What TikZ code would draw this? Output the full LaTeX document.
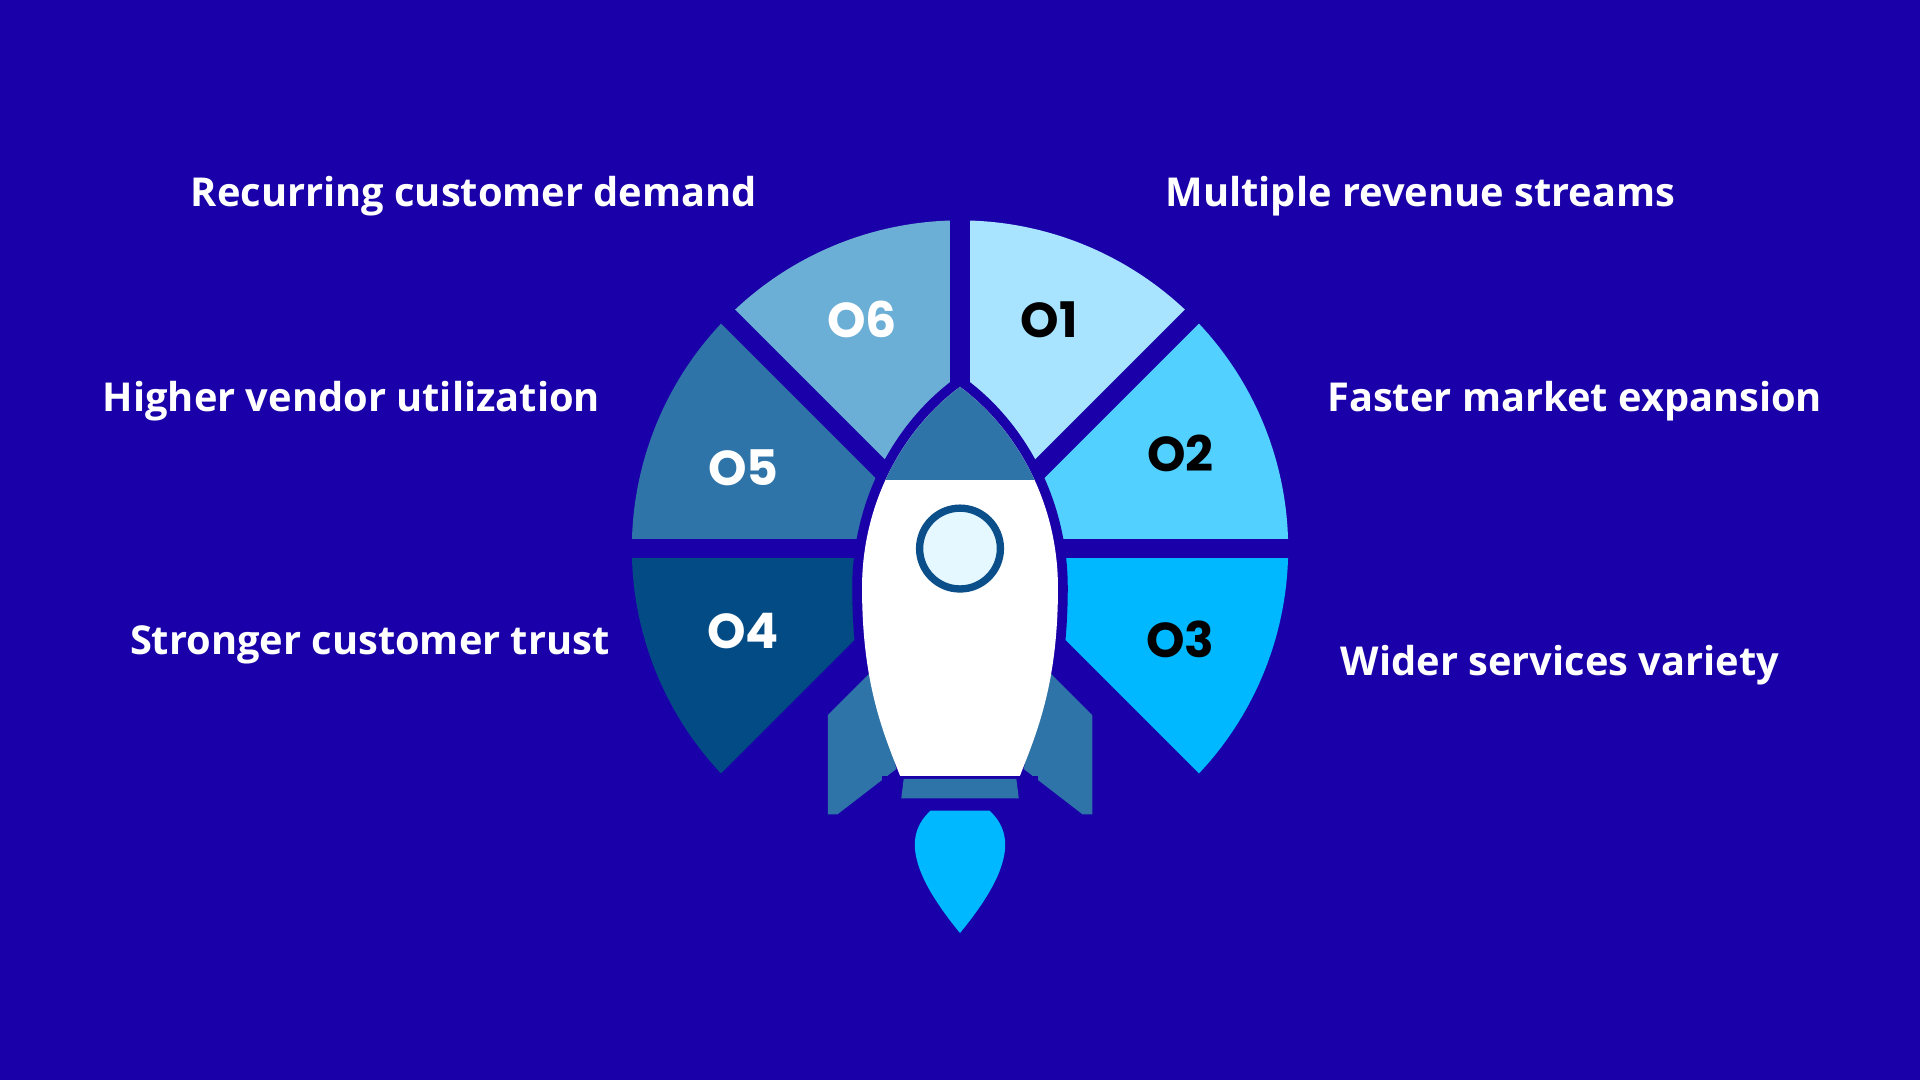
\documentclass[tikz,border=0pt]{standalone}
\usepackage{fontspec}
\setmainfont{Open Sans}
\newfontfamily\pop{Poppins}
\definecolor{bg}{HTML}{1A00A8}
\definecolor{cA}{HTML}{A8E4FF}
\definecolor{cB}{HTML}{52D0FF}
\definecolor{cC}{HTML}{00B8FF}
\definecolor{cD}{HTML}{034B85}
\definecolor{cE}{HTML}{2E74A8}
\definecolor{cF}{HTML}{6BAED6}
\definecolor{win}{HTML}{0B4F8A}
\begin{document}
\begin{tikzpicture}[x=1pt,y=1pt,
 lab/.style={text=white,font=\bfseries\fontsize{32.5}{38}\selectfont},
 num/.style={font=\pop\bfseries\fontsize{40}{44}\selectfont},
 gap/.style={bg,line width=16pt},
 rim/.style={draw=bg,line width=16pt,line join=round}]
\fill[bg] (0,0) rectangle (1568,882);
\useasboundingbox (0,0) rectangle (1568,882);
\coordinate (C) at (784,434);
\foreach \a/\c in {45/cA,0/cB,-45/cC,180/cD,135/cE,90/cF}{
  \fill[\c] (C) -- ++(\a:268) arc[start angle=\a,end angle=\a+45,radius=268] -- cycle;}
\foreach \a in {90,45,0,-45,135,180,225}{\draw[gap] (C) -- ++(\a:275);}
\def\finL{(676,217)--(676,298)--(712,334)--(732,254)--(684,217)--cycle}
\def\finR{(892,217)--(892,298)--(856,334)--(836,254)--(884,217)--cycle}
\def\noz{(736,246) rectangle (832,230)}
\def\body{(784,566) .. controls (738,532) and (704,472) .. (704,402) .. controls (704,322) and (722,282) .. (736,246) -- (832,246) .. controls (846,282) and (864,322) .. (864,402) .. controls (864,472) and (830,532) .. (784,566) -- cycle}
\path[rim] \finL; \path[rim] \finR; \path[rim] \noz; \path[rim] \body;
\fill[cE] \finL; \fill[cE] \finR;
\fill[white] \body;
\fill[bg] (720,248) rectangle (848,238);
\fill[cE] (738,246) -- (830,246) -- (832,230) -- (736,230) -- cycle;
\begin{scope}\clip \body; \fill[cE] (690,490) rectangle (880,580);\end{scope}
\node[circle,draw=win,line width=6pt,fill=cA!30,minimum size=66pt] (w) at (C) {};
\fill[cC] (760,220)--(808,220) .. controls (830,200) and (825,170) .. (784,120) .. controls (743,170) and (738,200) .. (760,220) -- cycle;
\node[num,text=white] (n6) at (704,621) {O6};
\node[num,text=black] (n1) at (857,621) {O1};
\node[num,text=white] (n5) at (607,500) {O5};
\node[num,text=black] (n2) at (964,512) {O2};
\node[num,text=white] (n4) at (607,367) {O4};
\node[num,text=black] (n3) at (964,360) {O3};
\node[lab] (l6) at (387,722) {Recurring customer demand};
\node[lab] (l1) at (1160,722) {Multiple revenue streams};
\node[lab] (l5) at (287,554) {Higher vendor utilization};
\node[lab] (l2) at (1286,554) {Faster market expansion};
\node[lab] (l4) at (302,355) {Stronger customer trust};
\node[lab] (l3) at (1274,339) {Wider services variety};
\end{tikzpicture}
\end{document}
